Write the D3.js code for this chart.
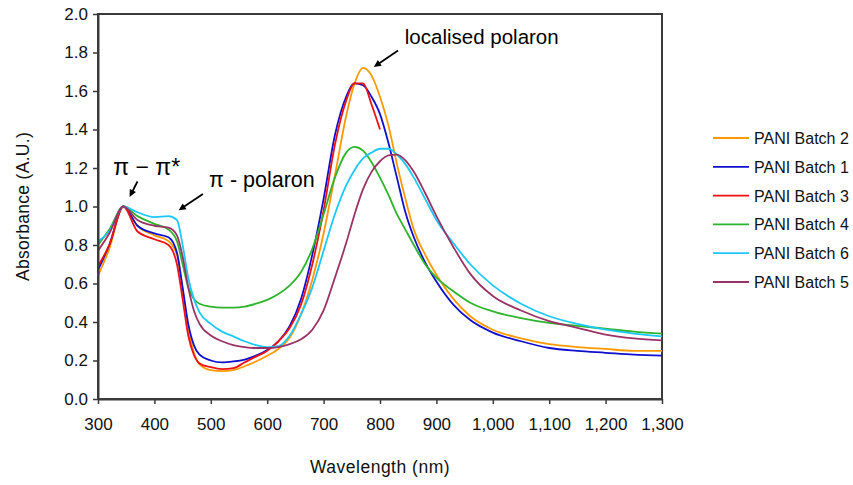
<!DOCTYPE html>
<html>
<head>
<meta charset="utf-8">
<script src="https://cdn.jsdelivr.net/npm/d3@7"></script>
<style>
  html, body { margin: 0; padding: 0; background: #fff; }
  svg { display: block; font-family: Arial, "Liberation Sans", sans-serif; }
</style>
</head>
<body>
<svg id="chart" width="853" height="485"></svg>
<script>
// ---- data ----
const wavelengths = [300, 320, 345, 370, 400, 425, 440, 450, 460, 470, 480, 500, 520, 540, 560, 580, 600, 620, 640, 660, 680, 700, 720, 740, 755, 770, 785, 800, 815, 830, 845, 860, 880, 900, 930, 960, 1000, 1050, 1100, 1150, 1200, 1250, 1300];

const batch2 = [0.64, 0.78, 1.00, 0.90, 0.85, 0.82, 0.75, 0.57, 0.37, 0.24, 0.18, 0.15, 0.145, 0.15, 0.17, 0.195, 0.225, 0.26, 0.32, 0.44, 0.62, 0.86, 1.16, 1.47, 1.64, 1.72, 1.68, 1.57, 1.42, 1.22, 1.04, 0.88, 0.75, 0.645, 0.52, 0.43, 0.36, 0.315, 0.285, 0.27, 0.26, 0.25, 0.25];
const batch1 = [0.67, 0.80, 1.00, 0.90, 0.86, 0.84, 0.76, 0.58, 0.39, 0.28, 0.23, 0.20, 0.19, 0.195, 0.205, 0.225, 0.255, 0.30, 0.38, 0.52, 0.75, 1.04, 1.37, 1.57, 1.64, 1.63, 1.57, 1.48, 1.33, 1.15, 0.97, 0.84, 0.71, 0.61, 0.49, 0.41, 0.345, 0.30, 0.265, 0.25, 0.24, 0.23, 0.225];
const batch3 = [0.69, 0.80, 1.00, 0.87, 0.83, 0.80, 0.70, 0.52, 0.33, 0.23, 0.185, 0.165, 0.155, 0.16, 0.19, 0.22, 0.25, 0.30, 0.37, 0.49, 0.70, 0.98, 1.32, 1.55, 1.64, 1.64, 1.53, 1.40, null, null, null, null, null, null, null, null, null, null, null, null, null, null, null];
const batch4 = [0.80, 0.88, 1.00, 0.95, 0.91, 0.88, 0.82, 0.70, 0.58, 0.52, 0.495, 0.48, 0.475, 0.475, 0.48, 0.495, 0.515, 0.545, 0.59, 0.66, 0.78, 0.96, 1.15, 1.28, 1.31, 1.29, 1.23, 1.15, 1.06, 0.96, 0.88, 0.80, 0.70, 0.63, 0.56, 0.50, 0.455, 0.42, 0.395, 0.38, 0.365, 0.35, 0.34];
const batch6 = [0.82, 0.87, 1.00, 0.97, 0.945, 0.95, 0.93, 0.80, 0.63, 0.52, 0.45, 0.39, 0.35, 0.325, 0.30, 0.28, 0.27, 0.275, 0.33, 0.44, 0.58, 0.77, 0.96, 1.11, 1.19, 1.25, 1.28, 1.30, 1.30, 1.27, 1.22, 1.15, 1.04, 0.93, 0.81, 0.70, 0.59, 0.495, 0.43, 0.39, 0.36, 0.34, 0.325];
const batch5 = [0.77, 0.86, 1.00, 0.93, 0.90, 0.89, 0.85, 0.74, 0.58, 0.46, 0.39, 0.33, 0.30, 0.28, 0.27, 0.265, 0.265, 0.27, 0.285, 0.31, 0.36, 0.46, 0.63, 0.81, 0.96, 1.09, 1.18, 1.235, 1.265, 1.27, 1.24, 1.18, 1.07, 0.95, 0.79, 0.65, 0.535, 0.46, 0.405, 0.37, 0.335, 0.315, 0.305];

const seriesNames = ["PANI Batch 2", "PANI Batch 1", "PANI Batch 3", "PANI Batch 4", "PANI Batch 6", "PANI Batch 5"];
const seriesValues = [batch2, batch1, batch3, batch4, batch6, batch5];
const seriesColors = ["#FF9900", "#1010CC", "#EE1111", "#2DB42D", "#1CC8F8", "#993366"];

const xTicks = [300, 400, 500, 600, 700, 800, 900, 1000, 1100, 1200, 1300];
const yTicks = [0, 0.2, 0.4, 0.6, 0.8, 1.0, 1.2, 1.4, 1.6, 1.8, 2.0];

// ---- layout ----
const svg = d3.select("#chart");
const margin = { left: 98, right: 191, top: 14, bottom: 86 };
const W = 853, H = 485;
const x = d3.scaleLinear().domain([300, 1300]).range([margin.left, W - margin.right]);
const y = d3.scaleLinear().domain([0, 2]).range([H - margin.bottom, margin.top]);

const axisColor = "#3a3a3a";

// plot frame (top & right)
svg.append("rect")
  .attr("x", x(300)).attr("y", y(2))
  .attr("width", x(1300) - x(300)).attr("height", y(0) - y(2))
  .attr("fill", "none").attr("stroke", axisColor).attr("stroke-width", 2);

// series
const line = d3.line()
  .defined(d => d[1] !== null)
  .x(d => x(d[0]))
  .y(d => y(d[1]))
  .curve(d3.curveMonotoneX);

seriesValues.forEach((vals, i) => {
  const pts = wavelengths.map((w, j) => [w, vals[j]]);
  svg.append("path")
    .datum(pts)
    .attr("fill", "none")
    .attr("stroke", seriesColors[i])
    .attr("stroke-width", 1.8)
    .attr("d", line);
});

// axes
const xAxis = d3.axisBottom(x).tickValues(xTicks).tickFormat(d3.format(",")).tickSize(5).tickSizeOuter(0).tickPadding(14);
const yAxis = d3.axisLeft(y).tickValues(yTicks).tickFormat(d3.format(".1f")).tickSize(5).tickSizeOuter(0).tickPadding(5);

const gx = svg.append("g").attr("transform", `translate(0,${y(0)})`).call(xAxis);
const gy = svg.append("g").attr("transform", `translate(${x(300)},0)`).call(yAxis);
[gx, gy].forEach(g => {
  g.select(".domain").attr("stroke", axisColor).attr("stroke-width", 2);
  g.selectAll(".tick line").attr("stroke", axisColor).attr("stroke-width", 1.5);
  g.selectAll(".tick text").attr("fill", "#111").attr("font-size", 17).attr("font-family", "Arial, 'Liberation Sans', sans-serif");
});

// axis titles
svg.append("text")
  .attr("x", (x(300) + x(1300)) / 2).attr("y", 473)
  .attr("text-anchor", "middle").attr("font-size", 17.5).attr("letter-spacing", 0.5).attr("fill", "#111")
  .text("Wavelength (nm)");
svg.append("text")
  .attr("transform", `translate(29,${(y(0) + y(2)) / 2}) rotate(-90)`)
  .attr("text-anchor", "middle").attr("font-size", 17.5).attr("letter-spacing", 0.3).attr("fill", "#111")
  .text("Absorbance (A.U.)");

// annotations
function arrow(x1, y1, x2, y2) {
  const ang = Math.atan2(y2 - y1, x2 - x1);
  const L = 8, a = 0.45;
  svg.append("line").attr("x1", x1).attr("y1", y1)
    .attr("x2", x2 - Math.cos(ang) * 4).attr("y2", y2 - Math.sin(ang) * 4)
    .attr("stroke", "#000").attr("stroke-width", 1.8);
  const p1 = [x2 - L * Math.cos(ang - a), y2 - L * Math.sin(ang - a)];
  const p2 = [x2 - L * Math.cos(ang + a), y2 - L * Math.sin(ang + a)];
  svg.append("path").attr("d", `M${x2},${y2}L${p1[0]},${p1[1]}L${p2[0]},${p2[1]}Z`).attr("fill", "#000");
}
svg.append("text").attr("x", x(327)).attr("y", y(1.165)).attr("font-size", 23).attr("fill", "#000").text("\u03C0 \u2212 \u03C0*");
arrow(x(370), y(1.13), x(356), y(1.05));
svg.append("text").attr("x", x(497)).attr("y", y(1.10)).attr("font-size", 21.5).attr("fill", "#000").text("\u03C0 - polaron");
arrow(x(486), y(1.065), x(443), y(0.98));
svg.append("text").attr("x", x(844)).attr("y", y(1.845)).attr("font-size", 20.5).attr("fill", "#000").text("localised polaron");
arrow(x(832), y(1.81), x(789), y(1.725));

// legend
const legendY0 = 138, legendStep = 28.8;
seriesNames.forEach((name, i) => {
  const ly = legendY0 + i * legendStep;
  svg.append("line").attr("x1", 713).attr("x2", 749).attr("y1", ly).attr("y2", ly)
    .attr("stroke", seriesColors[i]).attr("stroke-width", 1.8);
  svg.append("text").attr("x", 754).attr("y", ly + 6).attr("font-size", 16).attr("fill", "#111").text(name);
});
</script>
</body>
</html>
